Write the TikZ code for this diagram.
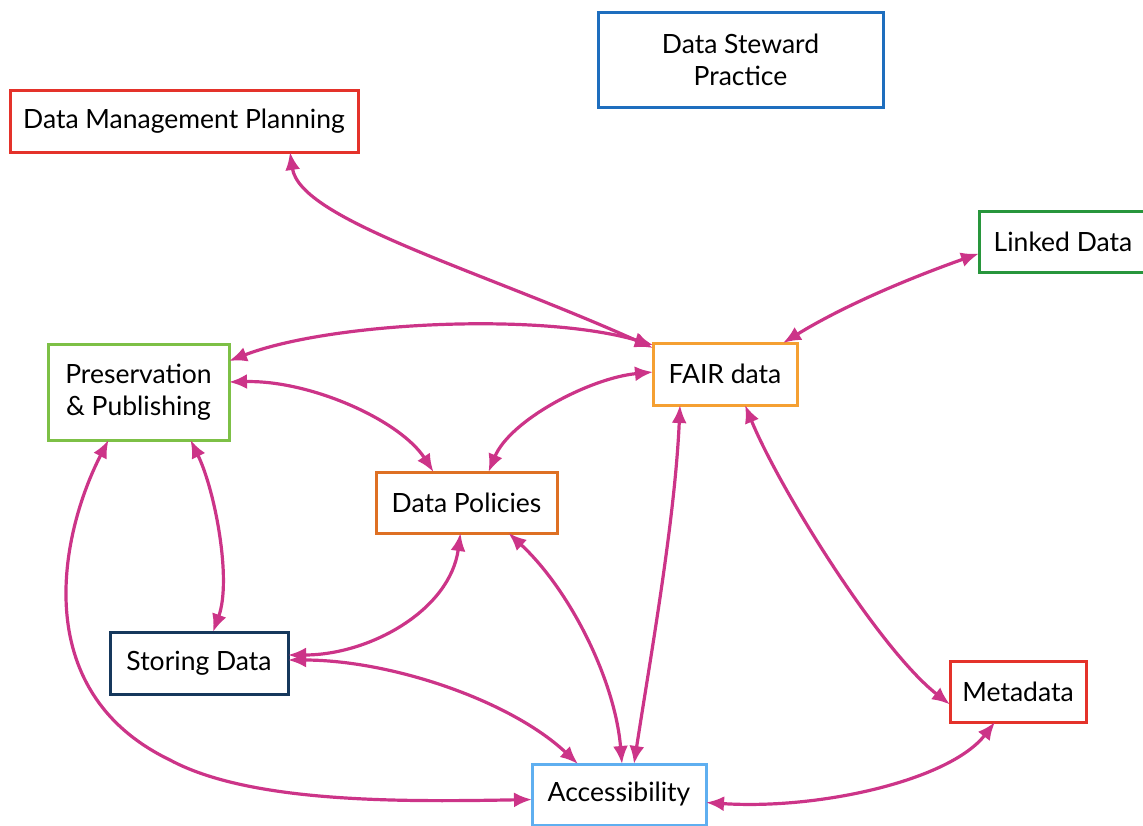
\documentclass[tikz,border=0pt]{standalone}
\usepackage{fontspec}
\setmainfont{Lato}
\usetikzlibrary{arrows.meta}
\definecolor{link}{RGB}{204,52,136}
\definecolor{cRed}{RGB}{228,50,42}
\definecolor{cBlue}{RGB}{30,110,190}
\definecolor{cGreen}{RGB}{40,150,60}
\definecolor{cLime}{RGB}{125,192,70}
\definecolor{cOrange}{RGB}{245,160,50}
\definecolor{cDkOrange}{RGB}{222,112,35}
\definecolor{cNavy}{RGB}{22,56,92}
\definecolor{cSky}{RGB}{95,175,240}
\tikzset{
  box/.style={draw=#1, line width=3pt, fill=white, inner sep=0pt, outer sep=0pt,
    align=center, font=\fontsize{26.5}{32}\selectfont},
  link/.style={draw=link, line width=3.2pt,
    {Latex[length=18pt,width=15pt]}-{Latex[length=18pt,width=15pt]}}
}
\begin{document}
\begin{tikzpicture}[x=1pt,y=-1pt]
\useasboundingbox (0,0) rectangle (1143,825);

% concept boxes
\node[box=cRed, minimum width=348pt, minimum height=62pt] (dmp) at (184,121) {Data Management Planning};
\node[box=cBlue, minimum width=285pt, minimum height=95pt] (dsp) at (740.5,59.5) {Data Steward\\Practice};
\node[box=cGreen, minimum width=168pt, minimum height=61pt] (lnk) at (1063,241.5) {Linked Data};
\node[box=cLime, minimum width=181pt, minimum height=96pt] (pres) at (138.5,392) {Preservation\\\& Publishing};
\node[box=cOrange, minimum width=144pt, minimum height=62pt] (fair) at (725,374) {FAIR data};
\node[box=cDkOrange, minimum width=181pt, minimum height=61pt] (pol) at (466.5,502.5) {Data Policies};
\node[box=cNavy, minimum width=178pt, minimum height=62pt] (store) at (199,663) {Storing Data};
\node[box=cSky, minimum width=174pt, minimum height=61pt] (acc) at (619,794.5) {Accessibility};
\node[box=cRed, minimum width=136pt, minimum height=61pt] (meta) at (1018,691.5) {Metadata};

% relations between concepts
\draw[link] ([xshift=106pt]dmp.south) .. controls (300,220) and (480,270) .. ([yshift=-5pt]fair.north west);
\draw[link] ([yshift=-12pt]lnk.west) .. controls (910,278) and (845,305) .. ([xshift=-14pt]fair.north east);
\draw[link] ([yshift=-17pt]pres.north east) .. controls (330,322) and (540,312) .. ([yshift=-2pt]fair.north west);
\draw[link] ([yshift=10pt]pres.east) .. controls (310,380) and (400,420) .. ([xshift=-33pt]pol.north);
\draw[link] ([yshift=2pt]fair.west) .. controls (590,378) and (510,420) .. ([xshift=22pt]pol.north);
\draw[link] ([xshift=52pt]pres.south) .. controls (215,490) and (232,580) .. ([xshift=14pt]store.north);
\draw[link] ([xshift=-30pt]pres.south) .. controls (62,530) and (25,690) .. (170,760)
  .. controls (250,803) and (400,802) .. ([yshift=-5pt]acc.west);
\draw[link] ([yshift=8pt]store.east) .. controls (370,655) and (450,610) .. ([xshift=-6pt]pol.south);
\draw[link] ([yshift=3pt]store.east) .. controls (390,660) and (510,700) .. ([xshift=-41pt]acc.north);
\draw[link] ([xshift=42pt]pol.south) .. controls (570,590) and (615,680) .. ([xshift=3pt]acc.north);
\draw[link] ([xshift=-45pt]fair.south) .. controls (675,520) and (650,660) .. ([xshift=15pt]acc.north);
\draw[link] ([xshift=20pt]fair.south) .. controls (780,490) and (880,650) .. ([yshift=-13pt]meta.west);
\draw[link] ([xshift=-23pt]meta.south) .. controls (950,780) and (820,810) .. ([yshift=-8pt]acc.east);
\end{tikzpicture}
\end{document}
